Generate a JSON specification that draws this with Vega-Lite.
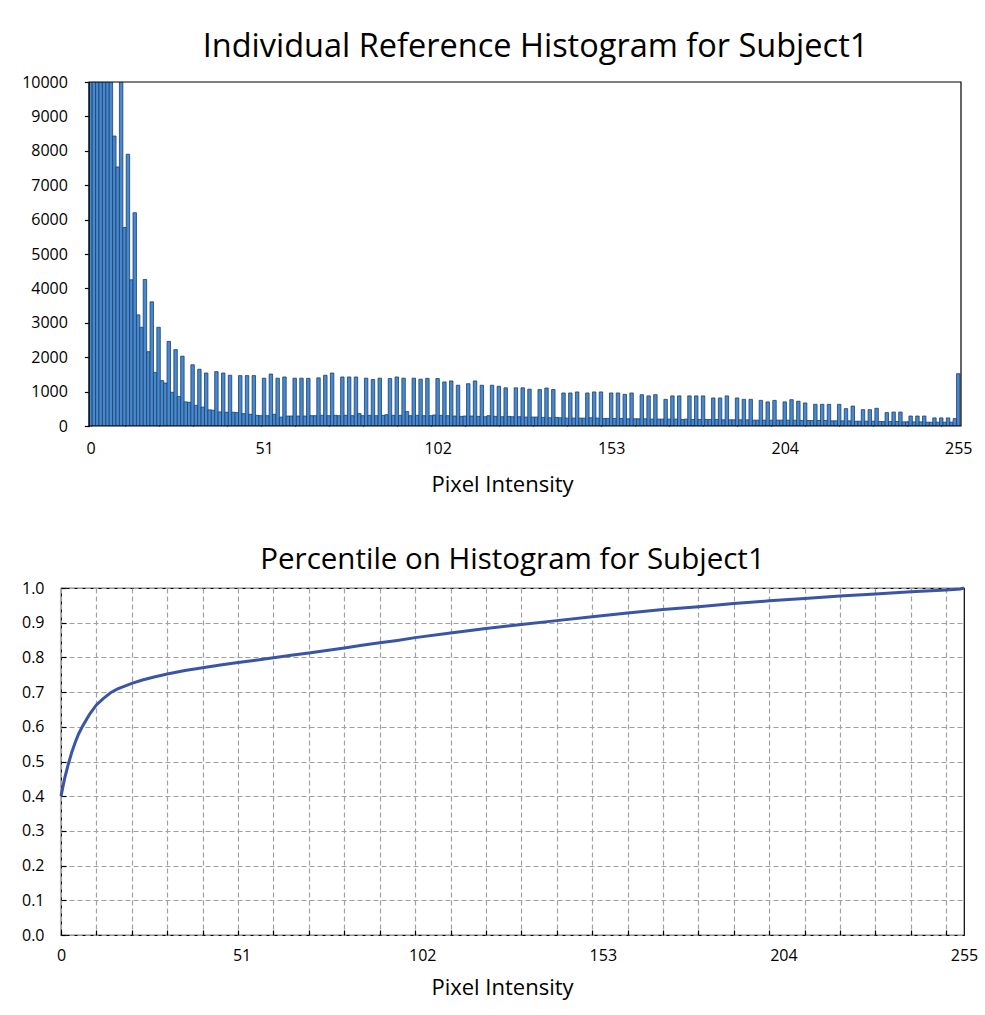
{
  "$schema": "https://vega.github.io/schema/vega-lite/v6.json",
  "background": "white",
  "padding": {"left": 20, "top": 30, "right": 5, "bottom": 5},
  "config": {
    "font": "Open Sans",
    "view": {"stroke": "black", "strokeWidth": 1.2},
    "axis": {
      "domain": false,
      "labelFont": "Open Sans",
      "labelFontSize": 16,
      "labelColor": "black",
      "titleFont": "Open Sans",
      "titleFontSize": 22,
      "titleFontWeight": "normal",
      "titleColor": "black",
      "tickColor": "black",
      "tickSize": -5,
      "tickWidth": 1.2
    },
    "title": {"font": "Open Sans", "fontWeight": "normal", "color": "black", "frame": "group", "anchor": "middle"}
  },
  "spacing": 48,
  "datasets": {
    "hist": [
      {"bin":0,"count":213000},{"bin":1,"count":25000},{"bin":2,"count":19500},{"bin":3,"count":19000},{"bin":4,"count":17000},{"bin":5,"count":13000},{"bin":6,"count":10500},{"bin":7,"count":8430},{"bin":8,"count":7530},{"bin":9,"count":10200},
      {"bin":10,"count":5770},{"bin":11,"count":7900},{"bin":12,"count":4250},{"bin":13,"count":6200},{"bin":14,"count":3230},{"bin":15,"count":2870},{"bin":16,"count":4260},{"bin":17,"count":2160},{"bin":18,"count":3610},{"bin":19,"count":1560},
      {"bin":20,"count":2870},{"bin":21,"count":1320},{"bin":22,"count":1250},{"bin":23,"count":2460},{"bin":24,"count":980},{"bin":25,"count":2220},{"bin":26,"count":860},{"bin":27,"count":2030},{"bin":28,"count":700},{"bin":29,"count":690},
      {"bin":30,"count":1780},{"bin":31,"count":600},{"bin":32,"count":1650},{"bin":33,"count":550},{"bin":34,"count":1540},{"bin":35,"count":470},{"bin":36,"count":460},{"bin":37,"count":1580},{"bin":38,"count":410},{"bin":39,"count":1540},
      {"bin":40,"count":400},{"bin":41,"count":1475},{"bin":42,"count":400},{"bin":43,"count":390},{"bin":44,"count":1465},{"bin":45,"count":360},{"bin":46,"count":1465},{"bin":47,"count":340},{"bin":48,"count":1465},{"bin":49,"count":310},
      {"bin":50,"count":300},{"bin":51,"count":1390},{"bin":52,"count":300},{"bin":53,"count":1510},{"bin":54,"count":340},{"bin":55,"count":1390},{"bin":56,"count":260},{"bin":57,"count":1425},{"bin":58,"count":290},{"bin":59,"count":290},
      {"bin":60,"count":1390},{"bin":61,"count":290},{"bin":62,"count":1390},{"bin":63,"count":290},{"bin":64,"count":1385},{"bin":65,"count":300},{"bin":66,"count":300},{"bin":67,"count":1400},{"bin":68,"count":310},{"bin":69,"count":1475},
      {"bin":70,"count":300},{"bin":71,"count":1540},{"bin":72,"count":310},{"bin":73,"count":300},{"bin":74,"count":1425},{"bin":75,"count":310},{"bin":76,"count":1425},{"bin":77,"count":300},{"bin":78,"count":1425},{"bin":79,"count":360},
      {"bin":80,"count":300},{"bin":81,"count":1390},{"bin":82,"count":310},{"bin":83,"count":1350},{"bin":84,"count":300},{"bin":85,"count":1390},{"bin":86,"count":310},{"bin":87,"count":330},{"bin":88,"count":1380},{"bin":89,"count":310},
      {"bin":90,"count":1425},{"bin":91,"count":310},{"bin":92,"count":1390},{"bin":93,"count":420},{"bin":94,"count":300},{"bin":95,"count":1390},{"bin":96,"count":310},{"bin":97,"count":1360},{"bin":98,"count":300},{"bin":99,"count":1385},
      {"bin":100,"count":300},{"bin":101,"count":320},{"bin":102,"count":1380},{"bin":103,"count":310},{"bin":104,"count":1280},{"bin":105,"count":300},{"bin":106,"count":1310},{"bin":107,"count":290},{"bin":108,"count":1185},{"bin":109,"count":280},
      {"bin":110,"count":290},{"bin":111,"count":1230},{"bin":112,"count":290},{"bin":113,"count":1310},{"bin":114,"count":280},{"bin":115,"count":1185},{"bin":116,"count":270},{"bin":117,"count":300},{"bin":118,"count":1185},{"bin":119,"count":280},
      {"bin":120,"count":1155},{"bin":121,"count":270},{"bin":122,"count":1110},{"bin":123,"count":280},{"bin":124,"count":270},{"bin":125,"count":1110},{"bin":126,"count":270},{"bin":127,"count":1110},{"bin":128,"count":260},{"bin":129,"count":1070},
      {"bin":130,"count":260},{"bin":131,"count":260},{"bin":132,"count":1060},{"bin":133,"count":250},{"bin":134,"count":1105},{"bin":135,"count":240},{"bin":136,"count":1060},{"bin":137,"count":250},{"bin":138,"count":240},{"bin":139,"count":960},
      {"bin":140,"count":230},{"bin":141,"count":960},{"bin":142,"count":230},{"bin":143,"count":990},{"bin":144,"count":230},{"bin":145,"count":230},{"bin":146,"count":960},{"bin":147,"count":240},{"bin":148,"count":990},{"bin":149,"count":230},
      {"bin":150,"count":990},{"bin":151,"count":220},{"bin":152,"count":220},{"bin":153,"count":960},{"bin":154,"count":220},{"bin":155,"count":960},{"bin":156,"count":220},{"bin":157,"count":920},{"bin":158,"count":210},{"bin":159,"count":960},
      {"bin":160,"count":210},{"bin":161,"count":210},{"bin":162,"count":910},{"bin":163,"count":210},{"bin":164,"count":875},{"bin":165,"count":200},{"bin":166,"count":910},{"bin":167,"count":200},{"bin":168,"count":200},{"bin":169,"count":775},
      {"bin":170,"count":200},{"bin":171,"count":875},{"bin":172,"count":200},{"bin":173,"count":875},{"bin":174,"count":190},{"bin":175,"count":200},{"bin":176,"count":875},{"bin":177,"count":190},{"bin":178,"count":875},{"bin":179,"count":190},
      {"bin":180,"count":875},{"bin":181,"count":190},{"bin":182,"count":190},{"bin":183,"count":815},{"bin":184,"count":190},{"bin":185,"count":815},{"bin":186,"count":180},{"bin":187,"count":875},{"bin":188,"count":180},{"bin":189,"count":180},
      {"bin":190,"count":815},{"bin":191,"count":180},{"bin":192,"count":775},{"bin":193,"count":180},{"bin":194,"count":775},{"bin":195,"count":170},{"bin":196,"count":170},{"bin":197,"count":745},{"bin":198,"count":170},{"bin":199,"count":700},
      {"bin":200,"count":170},{"bin":201,"count":745},{"bin":202,"count":170},{"bin":203,"count":170},{"bin":204,"count":700},{"bin":205,"count":170},{"bin":206,"count":765},{"bin":207,"count":170},{"bin":208,"count":720},{"bin":209,"count":160},
      {"bin":210,"count":670},{"bin":211,"count":160},{"bin":212,"count":160},{"bin":213,"count":630},{"bin":214,"count":160},{"bin":215,"count":630},{"bin":216,"count":160},{"bin":217,"count":630},{"bin":218,"count":150},{"bin":219,"count":150},
      {"bin":220,"count":630},{"bin":221,"count":150},{"bin":222,"count":505},{"bin":223,"count":150},{"bin":224,"count":580},{"bin":225,"count":140},{"bin":226,"count":140},{"bin":227,"count":475},{"bin":228,"count":140},{"bin":229,"count":475},
      {"bin":230,"count":140},{"bin":231,"count":515},{"bin":232,"count":130},{"bin":233,"count":130},{"bin":234,"count":390},{"bin":235,"count":130},{"bin":236,"count":405},{"bin":237,"count":130},{"bin":238,"count":405},{"bin":239,"count":120},
      {"bin":240,"count":120},{"bin":241,"count":290},{"bin":242,"count":120},{"bin":243,"count":290},{"bin":244,"count":120},{"bin":245,"count":290},{"bin":246,"count":110},{"bin":247,"count":110},{"bin":248,"count":235},{"bin":249,"count":110},
      {"bin":250,"count":235},{"bin":251,"count":110},{"bin":252,"count":235},{"bin":253,"count":110},{"bin":254,"count":215},{"bin":255,"count":1520}
    ],
    "cdf": [
      {"bin":0,"p":0.40},{"bin":1,"p":0.45},{"bin":2,"p":0.49},{"bin":3,"p":0.525},{"bin":4,"p":0.555},{"bin":5,"p":0.58},{"bin":6,"p":0.60},{"bin":8,"p":0.635},{"bin":10,"p":0.663},{"bin":12,"p":0.682},
      {"bin":14,"p":0.698},{"bin":16,"p":0.709},{"bin":18,"p":0.717},{"bin":20,"p":0.725},{"bin":23,"p":0.735},{"bin":26,"p":0.743},{"bin":30,"p":0.752},{"bin":35,"p":0.762},{"bin":40,"p":0.770},{"bin":45,"p":0.778},
      {"bin":50,"p":0.785},{"bin":55,"p":0.792},{"bin":60,"p":0.799},{"bin":65,"p":0.806},{"bin":70,"p":0.813},{"bin":75,"p":0.820},{"bin":80,"p":0.827},{"bin":85,"p":0.835},{"bin":90,"p":0.842},{"bin":95,"p":0.849},
      {"bin":100,"p":0.857},{"bin":110,"p":0.870},{"bin":120,"p":0.883},{"bin":130,"p":0.895},{"bin":140,"p":0.906},{"bin":150,"p":0.917},{"bin":160,"p":0.928},{"bin":170,"p":0.938},{"bin":180,"p":0.946},{"bin":190,"p":0.955},
      {"bin":200,"p":0.963},{"bin":210,"p":0.970},{"bin":220,"p":0.977},{"bin":230,"p":0.983},{"bin":240,"p":0.989},{"bin":250,"p":0.994},{"bin":254,"p":0.997},{"bin":255,"p":1.0}
    ]
  },
  "vconcat": [
    {
      "title": {"text": "Individual Reference Histogram for Subject1", "offset": 11, "fontSize": 32.5, "dx": 22},
      "width": 905,
      "height": 344,
      "view": {"stroke": null},
      "resolve": {"axis": {"x": "independent", "y": "independent"}},
      "layer": [
        {
          "data": {"name": "hist"},
          "mark": {"type": "bar", "width": 3.44, "fill": "#4689cf", "stroke": "#1d3f6b", "strokeWidth": 0.8, "clip": true},
          "encoding": {
            "x": {
              "field": "bin", "type": "quantitative",
              "scale": {"domain": [-7.2, 255.8], "nice": false, "zero": false},
              "axis": {
                "title": "Pixel Intensity",
                "titleX": 441,
                "values": [0,10,20,30,40,50,60,70,80,90,100,110,120,130,140,150,160,170,180,190,200,210,220,230,240,250,51,102,153,204,255],
                "labelExpr": "datum.value % 51 === 0 ? datum.label : ''",
                "tickOpacity": {"condition": {"test": "datum.value % 10 !== 0", "value": 0}, "value": 1},
                "labelOverlap": false,
                "labelFlush": false,
                "labelPadding": 19,
                "titlePadding": 18,
                "grid": false
              }
            },
            "y": {
              "field": "count", "type": "quantitative",
              "scale": {"domain": [0, 10000], "nice": false},
              "axis": {
                "title": null,
                "offset": -23.4,
                "values": [0,1000,2000,3000,4000,5000,6000,7000,8000,9000,10000],
                "format": "d",
                "labelOverlap": false,
                "labelPadding": 22,
                "grid": false
              }
            }
          }
        },
        {
          "data": {"values": [{}]},
          "mark": {"type": "rect", "fillOpacity": 0, "stroke": "black", "strokeWidth": 1.2},
          "encoding": {
            "x": {"datum": -0.4, "axis": null},
            "x2": {"datum": 255.8},
            "y": {"datum": 0, "axis": null},
            "y2": {"datum": 10000}
          }
        }
      ]
    },
    {
      "title": {"text": "Percentile on Histogram for Subject1", "offset": 7, "fontSize": 29.5, "dy": 2},
      "width": 903,
      "height": 347,
      "data": {"name": "cdf"},
      "mark": {"type": "line", "color": "#3b55a6", "strokeWidth": 3},
      "encoding": {
        "x": {
          "field": "bin", "type": "quantitative",
          "scale": {"domain": [0, 255], "nice": false},
          "axis": {
            "title": "Pixel Intensity",
            "titleX": 441,
            "values": [0,10,20,30,40,50,60,70,80,90,100,110,120,130,140,150,160,170,180,190,200,210,220,230,240,250,51,102,153,204,255],
            "labelExpr": "datum.value % 51 === 0 ? datum.label : ''",
            "tickOpacity": {"condition": {"test": "datum.value % 10 !== 0", "value": 0}, "value": 1},
            "gridOpacity": {"condition": {"test": "datum.value % 10 !== 0", "value": 0}, "value": 1},
            "grid": true,
            "gridColor": "#a0a0a0",
            "gridDash": [5, 3],
            "gridWidth": 1.2,
            "labelOverlap": false,
            "labelFlush": false,
            "labelPadding": 17,
            "titlePadding": 14
          }
        },
        "y": {
          "field": "p", "type": "quantitative",
          "scale": {"domain": [0, 1], "nice": false},
          "axis": {
            "title": null,
            "values": [0,0.1,0.2,0.3,0.4,0.5,0.6,0.7,0.8,0.9,1.0],
            "format": ".1f",
            "grid": true,
            "gridColor": "#a0a0a0",
            "gridDash": [5, 3],
            "gridWidth": 1.2,
            "labelOverlap": false,
            "labelPadding": 22
          }
        }
      }
    }
  ]
}
